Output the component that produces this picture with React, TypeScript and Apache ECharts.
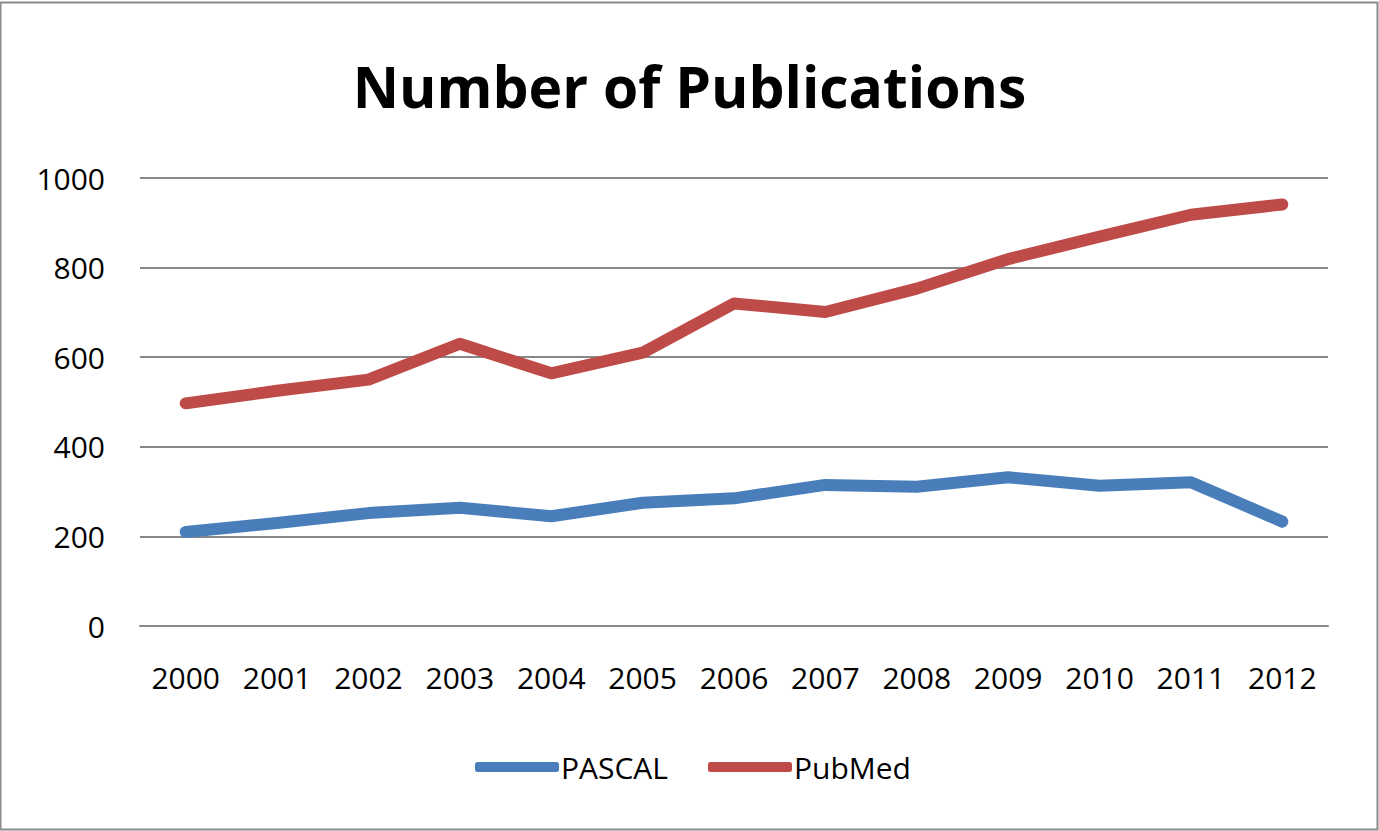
import React, { useEffect, useRef } from "react";
import * as echarts from "echarts";

const years = ["2000", "2001", "2002", "2003", "2004", "2005", "2006", "2007", "2008", "2009", "2010", "2011", "2012"];
const pascal = [210, 230, 252, 264, 245, 275, 285, 315, 311, 332, 313, 321, 233];
const pubmed = [497, 525, 550, 630, 564, 610, 720, 701, 753, 819, 869, 918, 941];
const yTicks = [0, 200, 400, 600, 800, 1000];

const FONT = "'Open Sans', 'Noto Sans', sans-serif";

export default function App() {
  const ref = useRef<HTMLDivElement>(null);
  useEffect(() => {
    document.body.style.margin = "0";
    const chart = echarts.init(ref.current!, null, { renderer: "svg" });
    chart.setOption({
      animation: false,
      backgroundColor: "#ffffff",
      title: {
        text: "Number of Publications",
        left: "center",
        top: 52,
        textStyle: { fontFamily: FONT, fontWeight: "bold", fontSize: 57, color: "#000" },
      },
      legend: {
        bottom: 44,
        left: 470,
        itemWidth: 84,
        itemHeight: 10,
        itemGap: 40,
        icon: "roundRect",
        textStyle: { fontFamily: FONT, fontSize: 30, color: "#000", padding: [0, 0, 0, -3] },
        data: ["PASCAL", "PubMed"],
      },
      grid: { left: 140, right: 51, top: 178, bottom: 205, containLabel: false },
      xAxis: {
        type: "category",
        data: years,
        boundaryGap: true,
        axisLine: { show: true, lineStyle: { color: "#888", width: 2 } },
        axisTick: { show: false },
        axisLabel: { fontFamily: FONT, fontSize: 30, color: "#000", margin: 36 },
      },
      yAxis: {
        type: "value",
        min: yTicks[0],
        max: yTicks[yTicks.length - 1],
        interval: 200,
        axisLine: { show: false },
        axisTick: { show: false },
        splitLine: { lineStyle: { color: "#888", width: 2 } },
        axisLabel: {
          fontFamily: FONT,
          fontSize: 30,
          color: "#000",
          margin: 35,
          formatter: (v: number) => String(v),
        },
      },
      series: [
        {
          name: "PASCAL",
          type: "line",
          data: pascal,
          showSymbol: false,
          symbol: "none",
          lineStyle: { color: "#4A7EBB", width: 12, cap: "round", join: "round" },
          itemStyle: { color: "#4A7EBB" },
        },
        {
          name: "PubMed",
          type: "line",
          data: pubmed,
          showSymbol: false,
          symbol: "none",
          lineStyle: { color: "#BE4B48", width: 12, cap: "round", join: "round" },
          itemStyle: { color: "#BE4B48" },
        },
      ],
      graphic: [
        {
          type: "rect",
          shape: { x: 0.5, y: 2.5, width: 1377, height: 827 },
          style: { fill: "none", stroke: "#8a8a8a", lineWidth: 2 },
          silent: true,
        },
      ],
    });
    return () => chart.dispose();
  }, []);
  return <div ref={ref} style={{ width: 1379, height: 831 }} />;
}
